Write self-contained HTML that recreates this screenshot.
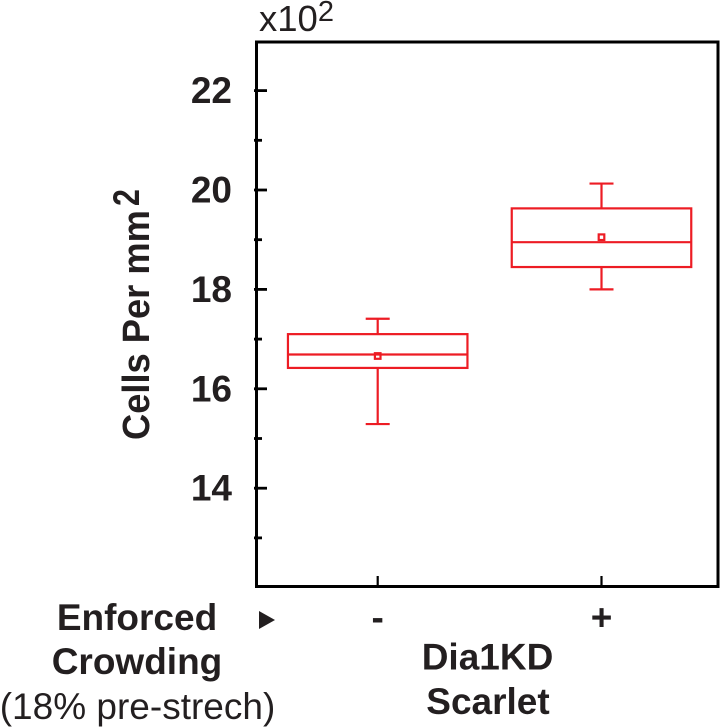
<!DOCTYPE html>
<html lang="en">
<head>
<meta charset="utf-8">
<title>Cells Per mm2 box plot</title>
<style>
html,body{margin:0;padding:0;background:#fff;width:720px;height:727px;overflow:hidden}
svg{display:block}
text{font-family:"Liberation Sans",Arial,sans-serif;fill:#231f20}
.b{font-weight:bold}
</style>
</head>
<body>
<svg id="chart" xmlns="http://www.w3.org/2000/svg" width="720" height="727" viewBox="0 0 720 727">
  <rect x="256.5" y="42" width="461.5" height="544.5" fill="none" stroke="#000" stroke-width="3"/>
  <g id="ticks"></g>
  <g id="boxes"></g>
  <text x="259" y="31" font-size="36.5">x10<tspan font-size="29" dy="-10">2</tspan></text>
  <text class="b" transform="translate(149,440) rotate(-90) scale(0.955,1)" font-size="38">Cells Per mm</text>
  <text class="b" transform="translate(139,206) rotate(-90) scale(0.82,1)" font-size="37">2</text>
  <text class="b" x="137" y="630" font-size="37" text-anchor="middle">Enforced</text>
  <text class="b" x="137" y="674" font-size="37" text-anchor="middle">Crowding</text>
  <text x="137.5" y="719" font-size="37" text-anchor="middle">(18% pre-strech)</text>
  <polygon points="259,611 275,620 259,629" fill="#231f20"/>
  <text class="b" x="487.5" y="669.5" font-size="37" text-anchor="middle">Dia1KD</text>
  <text class="b" x="488" y="714" font-size="37" text-anchor="middle">Scarlet</text>
</svg>
<script>
const categories = ['-', '+'];
const whiskerLow = [15.29, 18.0];
const quartile1 = [16.42, 18.45];
const medians = [16.69, 18.95];
const means = [16.66, 19.05];
const quartile3 = [17.10, 19.63];
const whiskerHigh = [17.41, 20.13];
const majorTicks = [22, 20, 18, 16, 14];
const minorTicks = [21, 19, 17, 15, 13];

const NS = 'http://www.w3.org/2000/svg';
const RED = '#ed1c24';
const BOX_W = 179.5;
const CAP_W = 24;

function yScale(v) { return 190 + (20 - v) * 49.7; }
function xScale(i) { return 377.7 + i * 223.8; }

function make(parent, tag, attrs) {
  const el = document.createElementNS(NS, tag);
  for (const k in attrs) el.setAttribute(k, attrs[k]);
  parent.appendChild(el);
  return el;
}

const ticksG = document.getElementById('ticks');
majorTicks.forEach(function (v) {
  const t = make(ticksG, 'line', {x1: 254, x2: 267, y1: yScale(v), y2: yScale(v), stroke: '#000', 'stroke-width': 2.8});
  
  
  const l = make(ticksG, 'text', {x: 232, y: yScale(v) + 12.5, 'font-size': 37, 'text-anchor': 'end', class: 'b'});
  
  
  l.textContent = v;
});
minorTicks.forEach(function (v) {
  const t = make(ticksG, 'line', {x1: 254, x2: 262, y1: yScale(v), y2: yScale(v), stroke: '#000', 'stroke-width': 2.8});
  
  
});
categories.forEach(function (c, i) {
  const t = make(ticksG, 'line', {x1: xScale(i), x2: xScale(i), y1: 576, y2: 586, stroke: '#000', 'stroke-width': 2.2});
  
  
  const l = make(ticksG, 'text', {x: xScale(i), y: 630, 'font-size': 37, 'text-anchor': 'middle', class: 'b'});
  
  
  l.textContent = c;
});

const boxesG = document.getElementById('boxes');
categories.forEach(function (c, i) {
  const x = xScale(i);
  const g = make(boxesG, 'g', {fill: 'none', stroke: RED, 'stroke-width': 2.2});
  
  

  const wU = make(g, 'line', {x1: x, x2: x, y1: yScale(whiskerHigh[i]), y2: yScale(quartile3[i])});
  
  
  const wL = make(g, 'line', {x1: x, x2: x, y1: yScale(quartile1[i]), y2: yScale(whiskerLow[i])});
  
  
  const cU = make(g, 'line', {x1: x - CAP_W / 2, x2: x + CAP_W / 2, y1: yScale(whiskerHigh[i]), y2: yScale(whiskerHigh[i])});
  
  
  const cL = make(g, 'line', {x1: x - CAP_W / 2, x2: x + CAP_W / 2, y1: yScale(whiskerLow[i]), y2: yScale(whiskerLow[i])});
  
  
  const box = make(g, 'rect', {x: x - BOX_W / 2, y: yScale(quartile3[i]), width: BOX_W, height: yScale(quartile1[i]) - yScale(quartile3[i])});
  
  
  const med = make(g, 'line', {x1: x - BOX_W / 2, x2: x + BOX_W / 2, y1: yScale(medians[i]), y2: yScale(medians[i])});
  
  
  const mean = make(g, 'rect', {x: x - 2.8, y: yScale(means[i]) - 2.8, width: 5.6, height: 5.6});
  
  
});
</script>
</body>
</html>
